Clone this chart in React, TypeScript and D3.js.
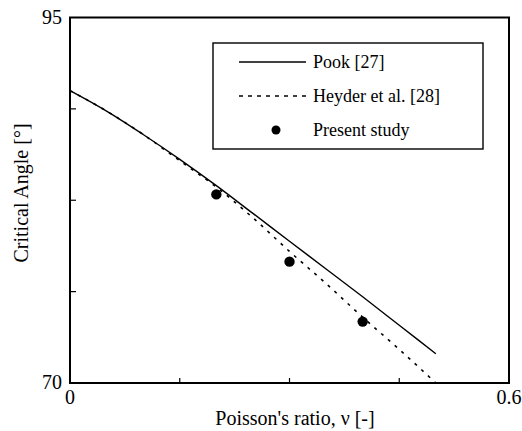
import React from "react";
import * as d3 from "d3";

// Poisson's ratio samples for the two reference curves
const nuValues = [0, 0.05, 0.1, 0.15, 0.2, 0.25, 0.3, 0.35, 0.4, 0.45, 0.5];
// Critical angle [deg], Pook [27]
const pookAngles = [90.0, 88.6, 87.0, 85.3, 83.5, 81.6, 79.7, 77.8, 75.9, 73.95, 72.0];
// Critical angle [deg], Heyder et al. [28]
const heyderAngles = [90.0, 88.6, 87.0, 85.2, 83.4, 81.3, 79.0, 76.8, 74.5, 72.3, 70.0];
// Present study results
const studyNu = [0.2, 0.3, 0.4];
const studyAngles = [82.9, 78.3, 74.2];

const xTickValues = [0, 0.15, 0.3, 0.45, 0.6];
const yTickValues = [70, 76.25, 82.5, 88.75, 95];
const xTickLabels = ["0", "", "", "", "0.6"];
const yTickLabels = ["70", "", "", "", "95"];

const legendLabels = ["Pook [27]", "Heyder et al. [28]", "Present study"];

const W = 522;
const H = 431;
const plot = { left: 70, right: 509, top: 17.5, bottom: 383 };
const FONT = '"Liberation Serif", "DejaVu Serif", serif';

export default function App() {
  const x = d3.scaleLinear().domain([0, 0.6]).range([plot.left, plot.right]);
  const y = d3.scaleLinear().domain([70, 95]).range([plot.bottom, plot.top]);

  const line = d3
    .line<[number, number]>()
    .x((d) => x(d[0]))
    .y((d) => y(d[1]))
    .curve(d3.curveMonotoneX);

  const pookPath = line(nuValues.map((n, i) => [n, pookAngles[i]] as [number, number])) || "";
  const heyderPath = line(nuValues.map((n, i) => [n, heyderAngles[i]] as [number, number])) || "";

  const legend = { x0: 213, y0: 43, x1: 483, y1: 149 };
  const rowY = [62, 96, 130];
  const textStyle = { fontFamily: FONT };

  return (
    <svg
      width={W}
      height={H}
      style={{ position: "absolute", left: 0, top: 0, background: "#fff", fontFamily: FONT }}
    >
      <rect x={0} y={0} width={W} height={H} fill="#fff" />

      {/* data curves */}
      <path d={pookPath} fill="none" stroke="#000" strokeWidth={1.4} />
      <path
        d={heyderPath}
        fill="none"
        stroke="#000"
        strokeWidth={1.6}
        strokeDasharray="3,6"
      />
      {studyNu.map((n, i) => (
        <circle key={i} cx={x(n)} cy={y(studyAngles[i])} r={5.2} fill="#000" />
      ))}

      {/* ticks (inward, left and bottom) */}
      {xTickValues.slice(1, -1).map((t) => (
        <line
          key={"xt" + t}
          x1={x(t)}
          x2={x(t)}
          y1={plot.bottom}
          y2={plot.bottom - 5}
          stroke="#000"
          strokeWidth={1.2}
        />
      ))}
      {yTickValues.slice(1, -1).map((t) => (
        <line
          key={"yt" + t}
          x1={plot.left}
          x2={plot.left + 6}
          y1={y(t)}
          y2={y(t)}
          stroke="#000"
          strokeWidth={1.2}
        />
      ))}

      {/* frame */}
      <rect
        x={plot.left}
        y={plot.top}
        width={plot.right - plot.left}
        height={plot.bottom - plot.top}
        fill="none"
        stroke="#000"
        strokeWidth={2}
      />

      {/* tick labels */}
      {xTickValues.map((t, i) =>
        xTickLabels[i] ? (
          <text
            key={"xl" + t}
            x={x(t)}
            y={404}
            fontSize={20}
            textAnchor="middle"
            fill="#000"
            style={textStyle}
          >
            {xTickLabels[i]}
          </text>
        ) : null
      )}
      {yTickValues.map((t, i) =>
        yTickLabels[i] ? (
          <text
            key={"yl" + t}
            x={62}
            y={y(t) + 6}
            fontSize={20}
            textAnchor="end"
            fill="#000"
            style={textStyle}
          >
            {yTickLabels[i]}
          </text>
        ) : null
      )}

      {/* axis titles */}
      <text x={295} y={425} fontSize={20} textAnchor="middle" fill="#000" style={textStyle}>
        Poisson's ratio, ν [-]
      </text>
      <text
        transform={`translate(28, 193) rotate(-90)`}
        fontSize={20}
        textAnchor="middle"
        fill="#000"
        style={textStyle}
      >
        Critical Angle [°]
      </text>

      {/* legend */}
      <rect
        x={legend.x0}
        y={legend.y0}
        width={legend.x1 - legend.x0}
        height={legend.y1 - legend.y0}
        fill="#fff"
        stroke="#000"
        strokeWidth={1.4}
      />
      <line x1={239} x2={306} y1={rowY[0]} y2={rowY[0]} stroke="#000" strokeWidth={1.4} />
      <line
        x1={239}
        x2={306}
        y1={rowY[1]}
        y2={rowY[1]}
        stroke="#000"
        strokeWidth={1.6}
        strokeDasharray="4,5"
      />
      <circle cx={276} cy={rowY[2]} r={4.5} fill="#000" />
      {legendLabels.map((lbl, i) => (
        <text key={lbl} x={313} y={rowY[i] + 6} fontSize={18} fill="#000" style={textStyle}>
          {lbl}
        </text>
      ))}
    </svg>
  );
}
